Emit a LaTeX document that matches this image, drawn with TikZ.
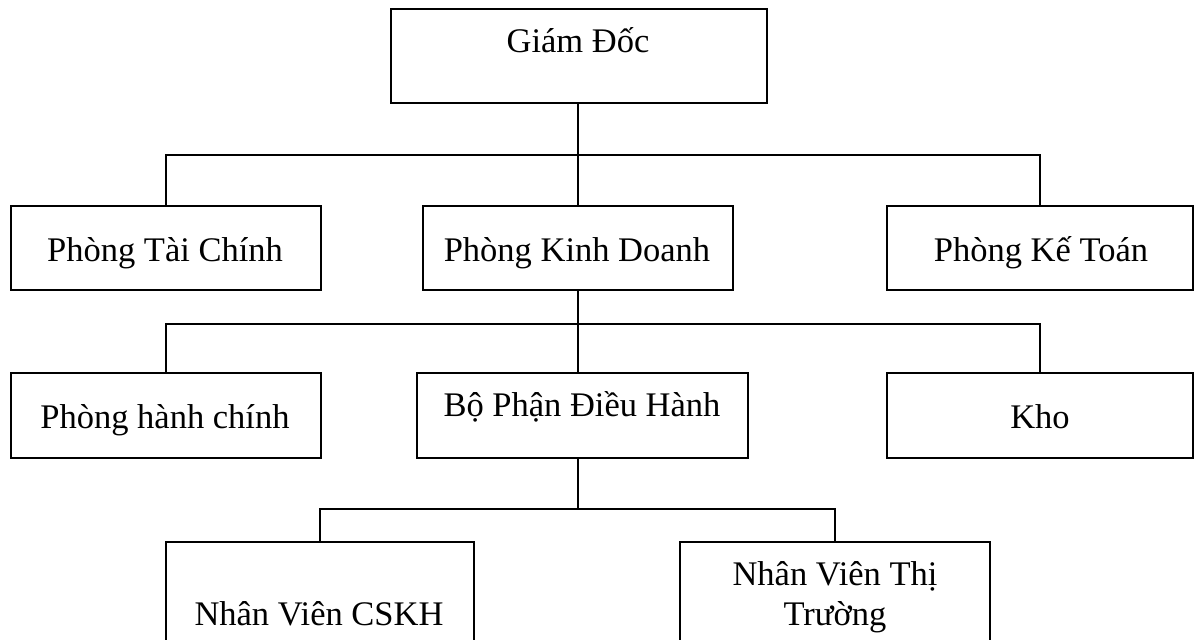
\documentclass[tikz,border=0pt]{standalone}
\usepackage{fontspec}
\setmainfont{Liberation Serif}
\begin{document}
\begin{tikzpicture}[x=1pt,y=-1pt,
  box/.style={draw, line width=1.3pt, inner sep=0pt, outer sep=0pt},
  txt/.style={anchor=base, inner sep=0pt, font=\fontsize{34.5}{40}\selectfont},
  conn/.style={line width=1.3pt}]
\useasboundingbox (0,0) rectangle (1195,640);
\clip (0,0) rectangle (1195,640);
% boxes
\node[box, minimum width=376pt, minimum height=94pt] (gd) at (579,56) {};
\node[box, minimum width=310pt, minimum height=84pt] (ptc) at (166,248) {};
\node[box, minimum width=310pt, minimum height=84pt] (pkd) at (578,248) {};
\node[box, minimum width=306pt, minimum height=84pt] (pkt) at (1040,248) {};
\node[box, minimum width=310pt, minimum height=85pt] (phc) at (166,415.5) {};
\node[box, minimum width=331pt, minimum height=85pt] (bpdh) at (582.5,415.5) {};
\node[box, minimum width=306pt, minimum height=85pt] (kho) at (1040,415.5) {};
\node[box, minimum width=308pt, minimum height=120pt] (nvc) at (320,602) {};
\node[box, minimum width=310pt, minimum height=120pt] (nvt) at (835,602) {};
% texts
\node[txt] (tgd) at (578,52) {Giám Đốc};
\node[txt] (tptc) at (165,261) {Phòng Tài Chính};
\node[txt] (tpkd) at (577,261) {Phòng Kinh Doanh};
\node[txt] (tpkt) at (1041,261) {Phòng Kế Toán};
\node[txt] (tphc) at (165,428) {Phòng hành chính};
\node[txt] (tbpdh) at (582,416) {Bộ Phận Điều Hành};
\node[txt] (tkho) at (1040,428) {Kho};
\node[txt] (tnvc) at (319,625) {Nhân Viên CSKH};
\node[txt] (tnvt1) at (835,585) {Nhân Viên Thị};
\node[txt] (tnvt2) at (835,625) {Trường};
% connectors
\coordinate (b1) at (578,155);
\coordinate (b2) at (578,324);
\coordinate (b3) at (578,509);
\draw[conn] (b1 |- gd.south) -- (b1);
\draw[conn] (ptc.north) |- (b1);
\draw[conn] (pkt.north) |- (b1);
\draw[conn] (b1) -- (b1 |- pkd.north);
\draw[conn] (b2 |- pkd.south) -- (b2);
\draw[conn] (phc.north) |- (b2);
\draw[conn] (kho.north) |- (b2);
\draw[conn] (b2) -- (b2 |- bpdh.north);
\draw[conn] (b3 |- bpdh.south) -- (b3);
\draw[conn] (nvc.north) |- (b3);
\draw[conn] (nvt.north) |- (b3);
\end{tikzpicture}
\end{document}
